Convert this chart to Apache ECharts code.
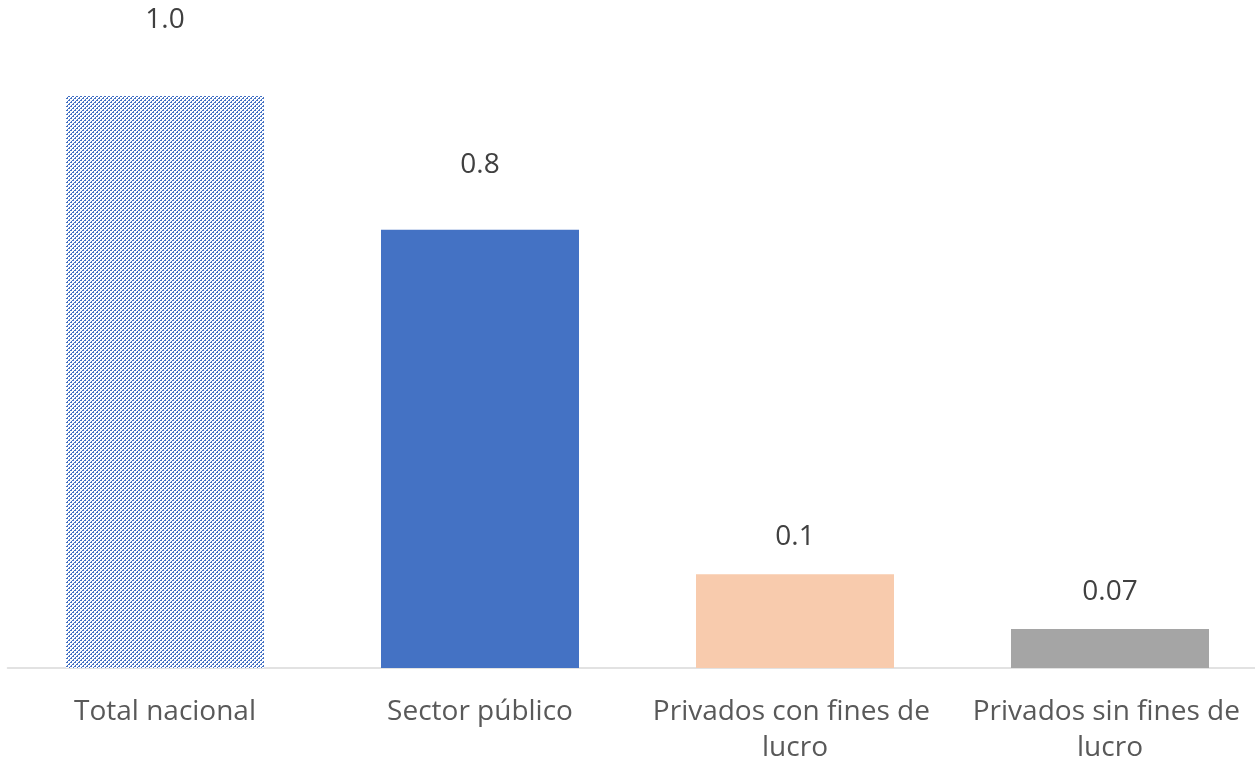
<!DOCTYPE html>
<html>
<head>
<meta charset="utf-8">
<script src="https://cdn.jsdelivr.net/npm/echarts@6/dist/echarts.min.js"></script>
<style>html,body{margin:0;padding:0;background:#fff}#c{width:1255px;height:761px}</style>
</head>
<body>
<div id="c"></div>
<script>
var categories = ["Total nacional", "Sector público", "Privados con fines de lucro", "Privados sin fines de lucro"];
var values = [1.0, 0.766, 0.164, 0.068];
var valueLabels = ["1.0", "0.8", "0.1", "0.07"];

// styling (not data)
var barColors = ["pattern", "#4472C4", "#F8CBAD", "#A5A5A5"];
var labelGaps = [62, 51, 23, 23];

function makeHatch() {
  var c = document.createElement('canvas');
  c.width = 8; c.height = 8;
  var ctx = c.getContext('2d');
  ctx.fillStyle = '#ffffff';
  ctx.fillRect(0, 0, 8, 8);
  ctx.fillStyle = '#4472C4';
  for (var y = 0; y < 8; y++) {
    for (var x = 0; x < 8; x++) {
      var m = (x + y) % 4;
      if (m === 0 || (m === 1 && y % 2 === 0)) ctx.fillRect(x, y, 1, 1);
    }
  }
  return c;
}
var hatch = makeHatch();

var chart = echarts.init(document.getElementById('c'), null, {renderer: 'canvas'});
var seriesData = values.map(function (v, i) {
  return {
    value: v,
    itemStyle: { color: barColors[i] === 'pattern' ? { image: hatch, repeat: 'repeat' } : barColors[i] },
    label: { distance: labelGaps[i] }
  };
});

chart.setOption({
  animation: false,
  grid: { left: 7.5, right: -12.5, top: 96, bottom: 93, containLabel: false, outerBoundsMode: 'none' },
  xAxis: {
    type: 'category',
    data: categories,
    axisLine: { show: true, lineStyle: { color: '#d9d9d9', width: 1.5 } },
    axisTick: { show: false },
    axisLabel: {
      interval: 0,
      color: '#595959',
      fontFamily: 'Open Sans',
      fontSize: 28,
      lineHeight: 36,
      margin: 26,
      width: 300,
      overflow: 'break'
    }
  },
  yAxis: {
    type: 'value',
    min: 0,
    max: 1.0,
    show: false,
    splitLine: { show: false }
  },
  series: [{
    type: 'bar',
    barWidth: 198,
    data: seriesData,
    label: {
      show: true,
      position: 'top',
      color: '#404040',
      fontFamily: 'Open Sans',
      fontSize: 28,
      formatter: function (p) { return valueLabels[p.dataIndex]; }
    }
  }]
});
</script>
</body>
</html>
